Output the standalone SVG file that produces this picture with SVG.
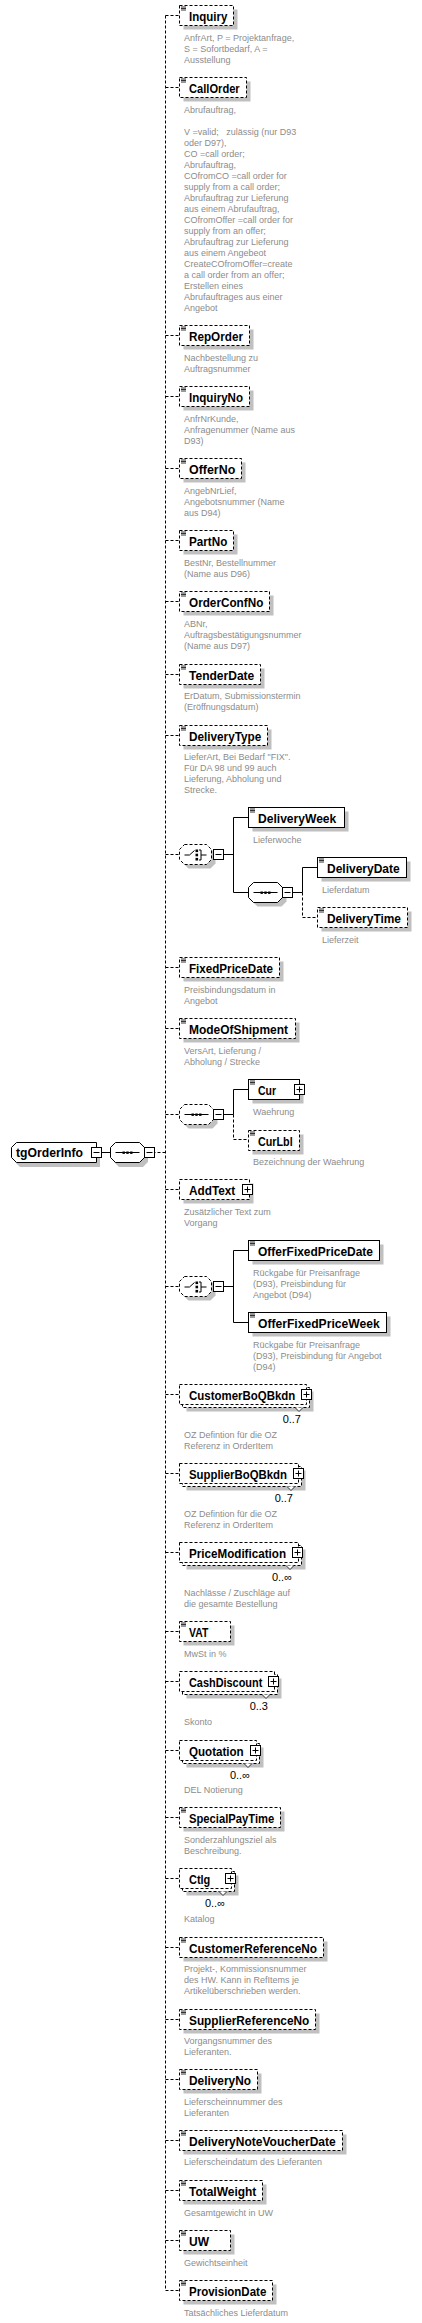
<svg xmlns="http://www.w3.org/2000/svg" width="422" height="2323" viewBox="0 0 422 2323">
<style>
.bx{fill:#fff;stroke:#000;stroke-width:1}
.dh{stroke-dasharray:3,2}
.sh{fill:#c0c0c0}
.ln{fill:none;stroke:#000;stroke-width:1}
.nm{font-family:"Liberation Sans",Arial,sans-serif;font-weight:bold;font-size:12px;fill:#000}
.ds{font-family:"Liberation Sans",Arial,sans-serif;font-size:9px;fill:#8c8c8c}
.oc{font-family:"Liberation Sans",Arial,sans-serif;font-size:11px;fill:#000;text-anchor:end}
.vn{fill:#fff;stroke:#000;stroke-width:0.8}
</style>
<defs>
<g id="ico"><path d="M1.5 1.5h5M1.5 3h5M1.5 4.5h5" stroke="#000" stroke-width="0.8" fill="none"/></g>
<g id="minus"><rect x="0.5" y="0.5" width="10" height="10" class="bx"/><path d="M2.5 5.5h6" class="ln"/></g>
<g id="plus"><rect x="0.5" y="0.5" width="10" height="10" class="bx"/><path d="M2.5 5.5h6M5.5 2.5v6" class="ln"/></g>
<path id="vn" d="M-4 0L0 4L4 0"/>
<path id="oct" d="M5 0H29L34 5V15L29 20H5L0 15V5Z"/>
<path id="octc" d="M5 0H27L32 5V15L27 20H5L0 15V5Z"/>
<g id="seqi"><path d="M5 10H29" class="ln"/><rect x="12" y="9" width="2.4" height="2.4"/><rect x="15.8" y="9" width="2.4" height="2.4"/><rect x="19.6" y="9" width="2.4" height="2.4"/></g>
<g id="choi"><path d="M5 10.5H10L15 6" class="ln"/><rect x="16" y="5" width="2.6" height="2.6"/><rect x="16" y="9.2" width="2.6" height="2.6"/><rect x="16" y="13.4" width="2.6" height="2.6"/><path d="M19.5 5.5H21.5V15.5H19.5M21.5 10.5H27" class="ln"/></g>
</defs>

<g id="connectors">
<path class="ln dh" d="M165.5 15.5V2290.5"/>
<path class="ln dh" d="M165.5 15.5H179.5M165.5 87.5H179.5M165.5 335.5H179.5M165.5 396.5H179.5M165.5 468.5H179.5M165.5 540.5H179.5M165.5 601.5H179.5M165.5 674.5H179.5M165.5 735.5H179.5M165.5 854.5H179.5M165.5 967.5H179.5M165.5 1028.5H179.5M165.5 1114.5H179.5M165.5 1152.5H155M165.5 1189.5H179.5M165.5 1286.5H179.5M165.5 1394.5H179.5M165.5 1473.5H179.5M165.5 1552.5H179.5M165.5 1631.5H179.5M165.5 1681.5H179.5M165.5 1750.5H179.5M165.5 1817.5H179.5M165.5 1878.5H179.5M165.5 1947.5H179.5M165.5 2019.5H179.5M165.5 2079.5H179.5M165.5 2140.5H179.5M165.5 2190.5H179.5M165.5 2240.5H179.5M165.5 2290.5H179.5"/>
<path class="ln" d="M101.5 1152.5H110"/>
<path class="ln" d="M223.5 854.5H233.5M233.5 817.5V892.5M233.5 817.5H248.5M233.5 892.5H248.5"/>
<path class="ln" d="M292.5 892.5H302.5M302.5 867.5V892.5M302.5 867.5H317.5"/>
<path class="ln dh" d="M302.5 892.5V917.5H317.5"/>
<path class="ln" d="M223.5 1114.5H233.5M233.5 1089.5V1114.5M233.5 1089.5H248.5"/>
<path class="ln dh" d="M233.5 1114.5V1139.5H248.5"/>
<path class="ln" d="M223.5 1286.5H233.5M233.5 1250.5V1322.5M233.5 1250.5H248.5M233.5 1322.5H248.5"/>
</g>

<g id="tgOrderInfo">
<path class="sh" d="M20 1147H100V1167H20L15 1162V1152Z"/>
<path class="bx" d="M16.5 1142.5H96.5V1162.5H16.5L11.5 1157.5V1147.5Z"/>
<text class="nm" x="16" y="1157" textLength="67" lengthAdjust="spacingAndGlyphs">tgOrderInfo</text>
<use href="#minus" x="91" y="1147"/>
</g>
<g id="seq_root">
<use href="#oct" x="114" y="1147" class="sh"/>
<use href="#oct" x="110.5" y="1142.5" class="bx"/>
<use href="#seqi" x="110.5" y="1142.5"/>
<use href="#minus" x="144" y="1147"/>
</g>

<g id="Inquiry"><rect class="sh" x="183.5" y="9.5" width="54" height="20"/><rect class="bx dh" x="179.5" y="5.5" width="54" height="20"/><use href="#ico" x="179.5" y="5.5"/><text class="nm" x="189" y="20.5" textLength="38.3" lengthAdjust="spacingAndGlyphs">Inquiry</text>
<text class="ds"><tspan x="184" y="41">AnfrArt, P = Projektanfrage,</tspan><tspan x="184" y="52">S = Sofortbedarf, A =</tspan><tspan x="184" y="63">Ausstellung</tspan></text></g>

<g id="CallOrder"><rect class="sh" x="183.5" y="81.5" width="67" height="20"/><rect class="bx dh" x="179.5" y="77.5" width="67" height="20"/><use href="#ico" x="179.5" y="77.5"/><text class="nm" x="189" y="92.5" textLength="50.7" lengthAdjust="spacingAndGlyphs">CallOrder</text>
<text class="ds" xml:space="preserve"><tspan x="184" y="113">Abrufauftrag,</tspan><tspan x="184" y="135">V =valid;   zulässig (nur D93</tspan><tspan x="184" y="146">oder D97),</tspan><tspan x="184" y="157">CO =call order;</tspan><tspan x="184" y="168">Abrufauftrag,</tspan><tspan x="184" y="179">COfromCO =call order for</tspan><tspan x="184" y="190">supply from a call order;</tspan><tspan x="184" y="201">Abrufauftrag zur Lieferung</tspan><tspan x="184" y="212">aus einem Abrufauftrag,</tspan><tspan x="184" y="223">COfromOffer =call order for</tspan><tspan x="184" y="234">supply from an offer;</tspan><tspan x="184" y="245">Abrufauftrag zur Lieferung</tspan><tspan x="184" y="256">aus einem Angebeot</tspan><tspan x="184" y="267">CreateCOfromOffer=create</tspan><tspan x="184" y="278">a call order from an offer;</tspan><tspan x="184" y="289">Erstellen eines</tspan><tspan x="184" y="300">Abrufauftrages aus einer</tspan><tspan x="184" y="311">Angebot</tspan></text></g>

<g id="RepOrder"><rect class="sh" x="183.5" y="329.5" width="70" height="20"/><rect class="bx dh" x="179.5" y="325.5" width="70" height="20"/><use href="#ico" x="179.5" y="325.5"/><text class="nm" x="189" y="340.5" textLength="54" lengthAdjust="spacingAndGlyphs">RepOrder</text>
<text class="ds"><tspan x="184" y="361">Nachbestellung zu</tspan><tspan x="184" y="372">Auftragsnummer</tspan></text></g>

<g id="InquiryNo"><rect class="sh" x="183.5" y="390.5" width="70" height="20"/><rect class="bx dh" x="179.5" y="386.5" width="70" height="20"/><use href="#ico" x="179.5" y="386.5"/><text class="nm" x="189" y="401.5" textLength="54" lengthAdjust="spacingAndGlyphs">InquiryNo</text>
<text class="ds"><tspan x="184" y="422">AnfrNrKunde,</tspan><tspan x="184" y="433">Anfragenummer (Name aus</tspan><tspan x="184" y="444">D93)</tspan></text></g>

<g id="OfferNo"><rect class="sh" x="183.5" y="462.5" width="62" height="20"/><rect class="bx dh" x="179.5" y="458.5" width="62" height="20"/><use href="#ico" x="179.5" y="458.5"/><text class="nm" x="189" y="473.5" textLength="46.3" lengthAdjust="spacingAndGlyphs">OfferNo</text>
<text class="ds"><tspan x="184" y="494">AngebNrLief,</tspan><tspan x="184" y="505">Angebotsnummer (Name</tspan><tspan x="184" y="516">aus D94)</tspan></text></g>

<g id="PartNo"><rect class="sh" x="183.5" y="534.5" width="54" height="20"/><rect class="bx dh" x="179.5" y="530.5" width="54" height="20"/><use href="#ico" x="179.5" y="530.5"/><text class="nm" x="189" y="545.5" textLength="38.3" lengthAdjust="spacingAndGlyphs">PartNo</text>
<text class="ds"><tspan x="184" y="566">BestNr, Bestellnummer</tspan><tspan x="184" y="577">(Name aus D96)</tspan></text></g>

<g id="OrderConfNo"><rect class="sh" x="183.5" y="595.5" width="90" height="20"/><rect class="bx dh" x="179.5" y="591.5" width="90" height="20"/><use href="#ico" x="179.5" y="591.5"/><text class="nm" x="189" y="606.5" textLength="74.3" lengthAdjust="spacingAndGlyphs">OrderConfNo</text>
<text class="ds"><tspan x="184" y="627">ABNr,</tspan><tspan x="184" y="638">Auftragsbestätigungsnummer</tspan><tspan x="184" y="649">(Name aus D97)</tspan></text></g>

<g id="TenderDate"><rect class="sh" x="183.5" y="668.5" width="81" height="20"/><rect class="bx dh" x="179.5" y="664.5" width="81" height="20"/><use href="#ico" x="179.5" y="664.5"/><text class="nm" x="189" y="679.5" textLength="65.3" lengthAdjust="spacingAndGlyphs">TenderDate</text>
<text class="ds"><tspan x="184" y="699">ErDatum, Submissionstermin</tspan><tspan x="184" y="710">(Eröffnungsdatum)</tspan></text></g>

<g id="DeliveryType"><rect class="sh" x="183.5" y="729.5" width="88" height="20"/><rect class="bx dh" x="179.5" y="725.5" width="88" height="20"/><use href="#ico" x="179.5" y="725.5"/><text class="nm" x="189" y="740.5" textLength="72.3" lengthAdjust="spacingAndGlyphs">DeliveryType</text>
<text class="ds"><tspan x="184" y="760">LieferArt, Bei Bedarf "FIX".</tspan><tspan x="184" y="771">Für DA 98 und 99 auch</tspan><tspan x="184" y="782">Lieferung, Abholung und</tspan><tspan x="184" y="793">Strecke.</tspan></text></g>

<g id="choice_delivery">
<use href="#octc" x="183.5" y="848.5" class="sh"/>
<use href="#octc" x="179.5" y="844.5" class="bx dh"/>
<use href="#choi" x="179.5" y="844.5"/>
<use href="#minus" x="213" y="849"/>
</g>

<g id="DeliveryWeek"><rect class="sh" x="252.5" y="811.5" width="96" height="20"/><rect class="bx" x="248.5" y="807.5" width="96" height="20"/><use href="#ico" x="248.5" y="807.5"/><text class="nm" x="258" y="822.5" textLength="78.3" lengthAdjust="spacingAndGlyphs">DeliveryWeek</text>
<text class="ds"><tspan x="253" y="843">Lieferwoche</tspan></text></g>

<g id="seq_delivery">
<use href="#oct" x="252.5" y="886.5" class="sh"/>
<use href="#oct" x="248.5" y="882.5" class="bx"/>
<use href="#seqi" x="248.5" y="882.5"/>
<use href="#minus" x="282" y="887"/>
</g>

<g id="DeliveryDate"><rect class="sh" x="321.5" y="861.5" width="89" height="20"/><rect class="bx" x="317.5" y="857.5" width="89" height="20"/><use href="#ico" x="317.5" y="857.5"/><text class="nm" x="327" y="872.5" textLength="72.7" lengthAdjust="spacingAndGlyphs">DeliveryDate</text>
<text class="ds"><tspan x="322" y="893">Lieferdatum</tspan></text></g>

<g id="DeliveryTime"><rect class="sh" x="321.5" y="911.5" width="90" height="20"/><rect class="bx dh" x="317.5" y="907.5" width="90" height="20"/><use href="#ico" x="317.5" y="907.5"/><text class="nm" x="327" y="922.5" textLength="74" lengthAdjust="spacingAndGlyphs">DeliveryTime</text>
<text class="ds"><tspan x="322" y="943">Lieferzeit</tspan></text></g>

<g id="FixedPriceDate"><rect class="sh" x="183.5" y="961.5" width="100" height="20"/><rect class="bx dh" x="179.5" y="957.5" width="100" height="20"/><use href="#ico" x="179.5" y="957.5"/><text class="nm" x="189" y="972.5" textLength="84" lengthAdjust="spacingAndGlyphs">FixedPriceDate</text>
<text class="ds"><tspan x="184" y="993">Preisbindungsdatum in</tspan><tspan x="184" y="1004">Angebot</tspan></text></g>

<g id="ModeOfShipment"><rect class="sh" x="183.5" y="1022.5" width="116" height="20"/><rect class="bx dh" x="179.5" y="1018.5" width="116" height="20"/><use href="#ico" x="179.5" y="1018.5"/><text class="nm" x="189" y="1033.5" textLength="99" lengthAdjust="spacingAndGlyphs">ModeOfShipment</text>
<text class="ds"><tspan x="184" y="1054">VersArt, Lieferung /</tspan><tspan x="184" y="1065">Abholung / Strecke</tspan></text></g>

<g id="seq_currency">
<use href="#oct" x="183.5" y="1108.5" class="sh"/>
<use href="#oct" x="179.5" y="1104.5" class="bx dh"/>
<use href="#seqi" x="179.5" y="1104.5"/>
<use href="#minus" x="213" y="1109"/>
</g>

<g id="Cur"><rect class="sh" x="252.5" y="1083.5" width="51" height="20"/><rect class="bx" x="248.5" y="1079.5" width="51" height="20"/><use href="#ico" x="248.5" y="1079.5"/><text class="nm" x="258" y="1094.5" textLength="18" lengthAdjust="spacingAndGlyphs">Cur</text><use href="#plus" x="294" y="1084"/>
<text class="ds"><tspan x="253" y="1115">Waehrung</tspan></text></g>

<g id="CurLbl"><rect class="sh" x="252.5" y="1134.5" width="51" height="20"/><rect class="bx dh" x="248.5" y="1130.5" width="51" height="20"/><use href="#ico" x="248.5" y="1130.5"/><text class="nm" x="258" y="1145.5" textLength="34.7" lengthAdjust="spacingAndGlyphs">CurLbl</text>
<text class="ds"><tspan x="253" y="1165">Bezeichnung der Waehrung</tspan></text></g>

<g id="AddText"><rect class="sh" x="183.5" y="1183.5" width="70" height="20"/><rect class="bx dh" x="179.5" y="1179.5" width="70" height="20"/><text class="nm" x="189" y="1194.5" textLength="46.3" lengthAdjust="spacingAndGlyphs">AddText</text><use href="#plus" x="242" y="1184"/>
<text class="ds"><tspan x="184" y="1215">Zusätzlicher Text zum</tspan><tspan x="184" y="1226">Vorgang</tspan></text></g>

<g id="choice_offer">
<use href="#octc" x="183.5" y="1280.5" class="sh"/>
<use href="#octc" x="179.5" y="1276.5" class="bx dh"/>
<use href="#choi" x="179.5" y="1276.5"/>
<use href="#minus" x="213" y="1281"/>
</g>

<g id="OfferFixedPriceDate"><rect class="sh" x="252.5" y="1244.5" width="131" height="20"/><rect class="bx" x="248.5" y="1240.5" width="131" height="20"/><use href="#ico" x="248.5" y="1240.5"/><text class="nm" x="258" y="1255.5" textLength="115" lengthAdjust="spacingAndGlyphs">OfferFixedPriceDate</text>
<text class="ds"><tspan x="253" y="1276">Rückgabe für Preisanfrage</tspan><tspan x="253" y="1287">(D93), Preisbindung für</tspan><tspan x="253" y="1298">Angebot (D94)</tspan></text></g>

<g id="OfferFixedPriceWeek"><rect class="sh" x="252.5" y="1316.5" width="138" height="20"/><rect class="bx" x="248.5" y="1312.5" width="138" height="20"/><use href="#ico" x="248.5" y="1312.5"/><text class="nm" x="258" y="1327.5" textLength="121.7" lengthAdjust="spacingAndGlyphs">OfferFixedPriceWeek</text>
<text class="ds"><tspan x="253" y="1348">Rückgabe für Preisanfrage</tspan><tspan x="253" y="1359">(D93), Preisbindung für Angebot</tspan><tspan x="253" y="1370">(D94)</tspan></text></g>

<g id="CustomerBoQBkdn"><rect class="sh" x="186.5" y="1391.5" width="127" height="20"/><rect class="bx dh" x="182.5" y="1387.5" width="127" height="20"/><rect class="bx dh" x="179.5" y="1384.5" width="127" height="20"/><text class="nm" x="189" y="1399.5" textLength="106.3" lengthAdjust="spacingAndGlyphs">CustomerBoQBkdn</text><use href="#plus" x="301" y="1389"/><use href="#vn" x="299" y="1407.5" class="vn"/>
<text class="oc" x="301" y="1422.5">0..7</text>
<text class="ds"><tspan x="184" y="1438">OZ Defintion für die OZ</tspan><tspan x="184" y="1449">Referenz in OrderItem</tspan></text></g>

<g id="SupplierBoQBkdn"><rect class="sh" x="186.5" y="1470.5" width="119" height="20"/><rect class="bx dh" x="182.5" y="1466.5" width="119" height="20"/><rect class="bx dh" x="179.5" y="1463.5" width="119" height="20"/><text class="nm" x="189" y="1478.5" textLength="98" lengthAdjust="spacingAndGlyphs">SupplierBoQBkdn</text><use href="#plus" x="293" y="1468"/><use href="#vn" x="291" y="1486.5" class="vn"/>
<text class="oc" x="293" y="1501.5">0..7</text>
<text class="ds"><tspan x="184" y="1517">OZ Defintion für die OZ</tspan><tspan x="184" y="1528">Referenz in OrderItem</tspan></text></g>

<g id="PriceModification"><rect class="sh" x="186.5" y="1549.5" width="119" height="20"/><rect class="bx dh" x="182.5" y="1545.5" width="119" height="20"/><rect class="bx dh" x="179.5" y="1542.5" width="119" height="20"/><text class="nm" x="189" y="1557.5" textLength="97" lengthAdjust="spacingAndGlyphs">PriceModification</text><use href="#plus" x="292" y="1547"/><use href="#vn" x="290" y="1565.5" class="vn"/>
<text class="oc" x="292" y="1580.5">0..∞</text>
<text class="ds"><tspan x="184" y="1596">Nachlässe / Zuschläge auf</tspan><tspan x="184" y="1607">die gesamte Bestellung</tspan></text></g>

<g id="VAT"><rect class="sh" x="183.5" y="1625.5" width="51" height="20"/><rect class="bx dh" x="179.5" y="1621.5" width="51" height="20"/><use href="#ico" x="179.5" y="1621.5"/><text class="nm" x="189" y="1636.5" textLength="19.3" lengthAdjust="spacingAndGlyphs">VAT</text>
<text class="ds"><tspan x="184" y="1657">MwSt in %</tspan></text></g>

<g id="CashDiscount"><rect class="sh" x="186.5" y="1678.5" width="95" height="20"/><rect class="bx dh" x="182.5" y="1674.5" width="95" height="20"/><rect class="bx dh" x="179.5" y="1671.5" width="95" height="20"/><text class="nm" x="189" y="1686.5" textLength="73.3" lengthAdjust="spacingAndGlyphs">CashDiscount</text><use href="#plus" x="268" y="1676"/><use href="#vn" x="266" y="1694.5" class="vn"/>
<text class="oc" x="268" y="1709.5">0..3</text>
<text class="ds"><tspan x="184" y="1725">Skonto</tspan></text></g>

<g id="Quotation"><rect class="sh" x="186.5" y="1747.5" width="77" height="20"/><rect class="bx dh" x="182.5" y="1743.5" width="77" height="20"/><rect class="bx dh" x="179.5" y="1740.5" width="77" height="20"/><text class="nm" x="189" y="1755.5" textLength="54.7" lengthAdjust="spacingAndGlyphs">Quotation</text><use href="#plus" x="250" y="1745"/><use href="#vn" x="248" y="1763.5" class="vn"/>
<text class="oc" x="250" y="1778.5">0..∞</text>
<text class="ds"><tspan x="184" y="1793">DEL Notierung</tspan></text></g>

<g id="SpecialPayTime"><rect class="sh" x="183.5" y="1811.5" width="101" height="20"/><rect class="bx dh" x="179.5" y="1807.5" width="101" height="20"/><use href="#ico" x="179.5" y="1807.5"/><text class="nm" x="189" y="1822.5" textLength="85.3" lengthAdjust="spacingAndGlyphs">SpecialPayTime</text>
<text class="ds"><tspan x="184" y="1843">Sonderzahlungsziel als</tspan><tspan x="184" y="1854">Beschreibung.</tspan></text></g>

<g id="Ctlg"><rect class="sh" x="186.5" y="1875.5" width="52" height="20"/><rect class="bx dh" x="182.5" y="1871.5" width="52" height="20"/><rect class="bx dh" x="179.5" y="1868.5" width="52" height="20"/><text class="nm" x="189" y="1883.5" textLength="21.3" lengthAdjust="spacingAndGlyphs">Ctlg</text><use href="#plus" x="225" y="1873"/><use href="#vn" x="223" y="1891.5" class="vn"/>
<text class="oc" x="225" y="1906.5">0..∞</text>
<text class="ds"><tspan x="184" y="1922">Katalog</tspan></text></g>

<g id="CustomerReferenceNo"><rect class="sh" x="183.5" y="1941.5" width="144" height="20"/><rect class="bx dh" x="179.5" y="1937.5" width="144" height="20"/><use href="#ico" x="179.5" y="1937.5"/><text class="nm" x="189" y="1952.5" textLength="128" lengthAdjust="spacingAndGlyphs">CustomerReferenceNo</text>
<text class="ds"><tspan x="184" y="1972">Projekt-, Kommissionsnummer</tspan><tspan x="184" y="1983">des HW. Kann in RefItems je</tspan><tspan x="184" y="1994">Artikelüberschrieben werden.</tspan></text></g>

<g id="SupplierReferenceNo"><rect class="sh" x="183.5" y="2013.5" width="136" height="20"/><rect class="bx dh" x="179.5" y="2009.5" width="136" height="20"/><use href="#ico" x="179.5" y="2009.5"/><text class="nm" x="189" y="2024.5" textLength="120.3" lengthAdjust="spacingAndGlyphs">SupplierReferenceNo</text>
<text class="ds"><tspan x="184" y="2044">Vorgangsnummer des</tspan><tspan x="184" y="2055">Lieferanten.</tspan></text></g>

<g id="DeliveryNo"><rect class="sh" x="183.5" y="2073.5" width="78" height="20"/><rect class="bx dh" x="179.5" y="2069.5" width="78" height="20"/><use href="#ico" x="179.5" y="2069.5"/><text class="nm" x="189" y="2084.5" textLength="62" lengthAdjust="spacingAndGlyphs">DeliveryNo</text>
<text class="ds"><tspan x="184" y="2105">Lieferscheinnummer des</tspan><tspan x="184" y="2116">Lieferanten</tspan></text></g>

<g id="DeliveryNoteVoucherDate"><rect class="sh" x="183.5" y="2134.5" width="163" height="20"/><rect class="bx dh" x="179.5" y="2130.5" width="163" height="20"/><use href="#ico" x="179.5" y="2130.5"/><text class="nm" x="189" y="2145.5" textLength="146.7" lengthAdjust="spacingAndGlyphs">DeliveryNoteVoucherDate</text>
<text class="ds"><tspan x="184" y="2165">Lieferscheindatum des Lieferanten</tspan></text></g>

<g id="TotalWeight"><rect class="sh" x="183.5" y="2184.5" width="83" height="20"/><rect class="bx dh" x="179.5" y="2180.5" width="83" height="20"/><use href="#ico" x="179.5" y="2180.5"/><text class="nm" x="189" y="2195.5" textLength="67.3" lengthAdjust="spacingAndGlyphs">TotalWeight</text>
<text class="ds"><tspan x="184" y="2216">Gesamtgewicht in UW</tspan></text></g>

<g id="UW"><rect class="sh" x="183.5" y="2234.5" width="51" height="20"/><rect class="bx dh" x="179.5" y="2230.5" width="51" height="20"/><use href="#ico" x="179.5" y="2230.5"/><text class="nm" x="189" y="2245.5" textLength="20" lengthAdjust="spacingAndGlyphs">UW</text>
<text class="ds"><tspan x="184" y="2266">Gewichtseinheit</tspan></text></g>

<g id="ProvisionDate"><rect class="sh" x="183.5" y="2284.5" width="93" height="20"/><rect class="bx dh" x="179.5" y="2280.5" width="93" height="20"/><use href="#ico" x="179.5" y="2280.5"/><text class="nm" x="189" y="2295.5" textLength="77.3" lengthAdjust="spacingAndGlyphs">ProvisionDate</text>
<text class="ds"><tspan x="184" y="2316">Tatsächliches Lieferdatum</tspan></text></g>
</svg>
